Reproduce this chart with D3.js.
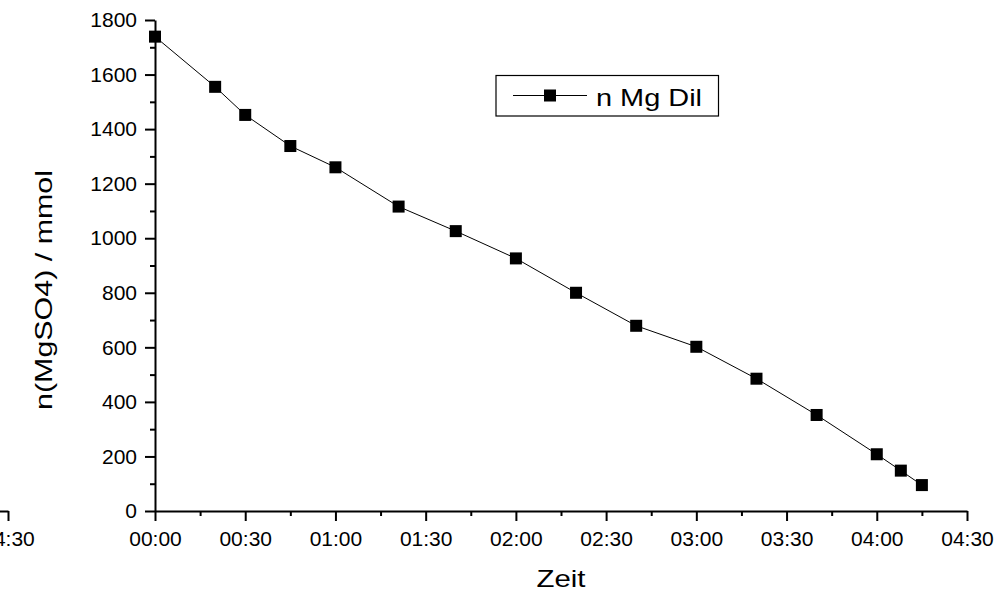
<!DOCTYPE html>
<html>
<head>
<meta charset="utf-8">
<script src="https://cdn.jsdelivr.net/npm/d3@7"></script>
<style>
  html, body { margin: 0; padding: 0; background: #fff; overflow: hidden; }
  svg { display: block; font-family: "Liberation Sans", Arial, sans-serif; }
</style>
</head>
<body>
<svg id="chart" width="1006" height="593"></svg>
<script>
// Data
const times = ["00:00","00:20","00:30","00:45","01:00","01:21","01:40","02:00","02:20","02:40","03:00","03:20","03:40","04:00","04:08","04:15"];
const values = [1739,1555,1452,1338,1260,1116,1026,926,800,679,602,485,352,208,148,95];
const seriesName = "n Mg Dil";
const xMajorTicks = [0,30,60,90,120,150,180,210,240,270];
const xMinorTicks = [15,45,75,105,135,165,195,225,255];
const yMajorTicks = [0,200,400,600,800,1000,1200,1400,1600,1800];
const yMinorTicks = [100,300,500,700,900,1100,1300,1500,1700];
const xTitle = "Zeit";
const yTitle = "n(MgSO4) / mmol";

const toMin = s => { const [h, m] = s.split(":").map(Number); return h * 60 + m; };
const fmt = m => String(Math.floor(m / 60)).padStart(2, "0") + ":" + String(m % 60).padStart(2, "0");
const data = times.map((t, i) => ({ t: toMin(t), v: values[i] }));

const svg = d3.select("#chart");
const x = d3.scaleLinear().domain([0, 270]).range([155, 967]);
const y = d3.scaleLinear().domain([0, 1800]).range([511, 20]);
const y0 = 511, x0 = 155;

function styleAxis(g) {
  g.selectAll("path.domain").attr("stroke", "#000").attr("stroke-width", 2);
  g.selectAll(".tick line").attr("stroke", "#000").attr("stroke-width", 2);
  g.selectAll(".tick text").attr("fill", "#000").style("font-size", "21px")
    .style("font-family", "'Liberation Sans', Arial, sans-serif");
}

// Ghost copy of the x axis (artifact at the left edge) plus the real axis
function drawXAxis(offset) {
  const g = svg.append("g").attr("transform", `translate(${offset},${y0})`);
  g.call(d3.axisBottom(x).tickValues(xMajorTicks).tickFormat(fmt).tickSize(10).tickSizeOuter(0).tickPadding(10));
  styleAxis(g);
  const gm = svg.append("g").attr("transform", `translate(${offset},${y0})`);
  gm.call(d3.axisBottom(x).tickValues(xMinorTicks).tickFormat("").tickSize(5).tickSizeOuter(0));
  styleAxis(gm);
  gm.select("path.domain").remove();
}
drawXAxis(-959);
drawXAxis(0);

// Y axis
const gy = svg.append("g").attr("transform", `translate(${x0},0)`);
gy.call(d3.axisLeft(y).tickValues(yMajorTicks).tickFormat(d3.format("d")).tickSize(10).tickSizeOuter(0).tickPadding(8));
styleAxis(gy);
const gym = svg.append("g").attr("transform", `translate(${x0},0)`);
gym.call(d3.axisLeft(y).tickValues(yMinorTicks).tickFormat("").tickSize(5).tickSizeOuter(0));
styleAxis(gym);
gym.select("path.domain").remove();

// Line
svg.append("path").datum(data)
  .attr("fill", "none").attr("stroke", "#000").attr("stroke-width", 1)
  .attr("d", d3.line().x(d => x(d.t)).y(d => y(d.v)));

// Markers
const ms = 12;
svg.append("g").selectAll("rect").data(data).join("rect")
  .attr("x", d => x(d.t) - ms / 2).attr("y", d => y(d.v) - ms / 2)
  .attr("width", ms).attr("height", ms).attr("fill", "#000");

// Titles
svg.append("text").attr("x", (x(0) + x(270)) / 2).attr("y", 587)
  .attr("text-anchor", "middle").style("font-size", "24px")
  .attr("textLength", 49).attr("lengthAdjust", "spacingAndGlyphs").text(xTitle);
svg.append("text").attr("transform", `translate(52,290) rotate(-90)`)
  .attr("text-anchor", "middle").style("font-size", "24px")
  .attr("textLength", 240).attr("lengthAdjust", "spacingAndGlyphs").text(yTitle);

// Legend
const lg = svg.append("g");
lg.append("rect").attr("x", 496).attr("y", 75.5).attr("width", 222.5).attr("height", 40.5)
  .attr("fill", "#fff").attr("stroke", "#000").attr("stroke-width", 1.2);
lg.append("line").attr("x1", 513).attr("x2", 587).attr("y1", 95.5).attr("y2", 95.5)
  .attr("stroke", "#000").attr("stroke-width", 1);
lg.append("rect").attr("x", 550 - ms / 2).attr("y", 95.5 - ms / 2).attr("width", ms).attr("height", ms).attr("fill", "#000");
lg.append("text").attr("x", 596).attr("y", 106).style("font-size", "24px")
  .attr("textLength", 106).attr("lengthAdjust", "spacingAndGlyphs").text(seriesName);
</script>
</body>
</html>
